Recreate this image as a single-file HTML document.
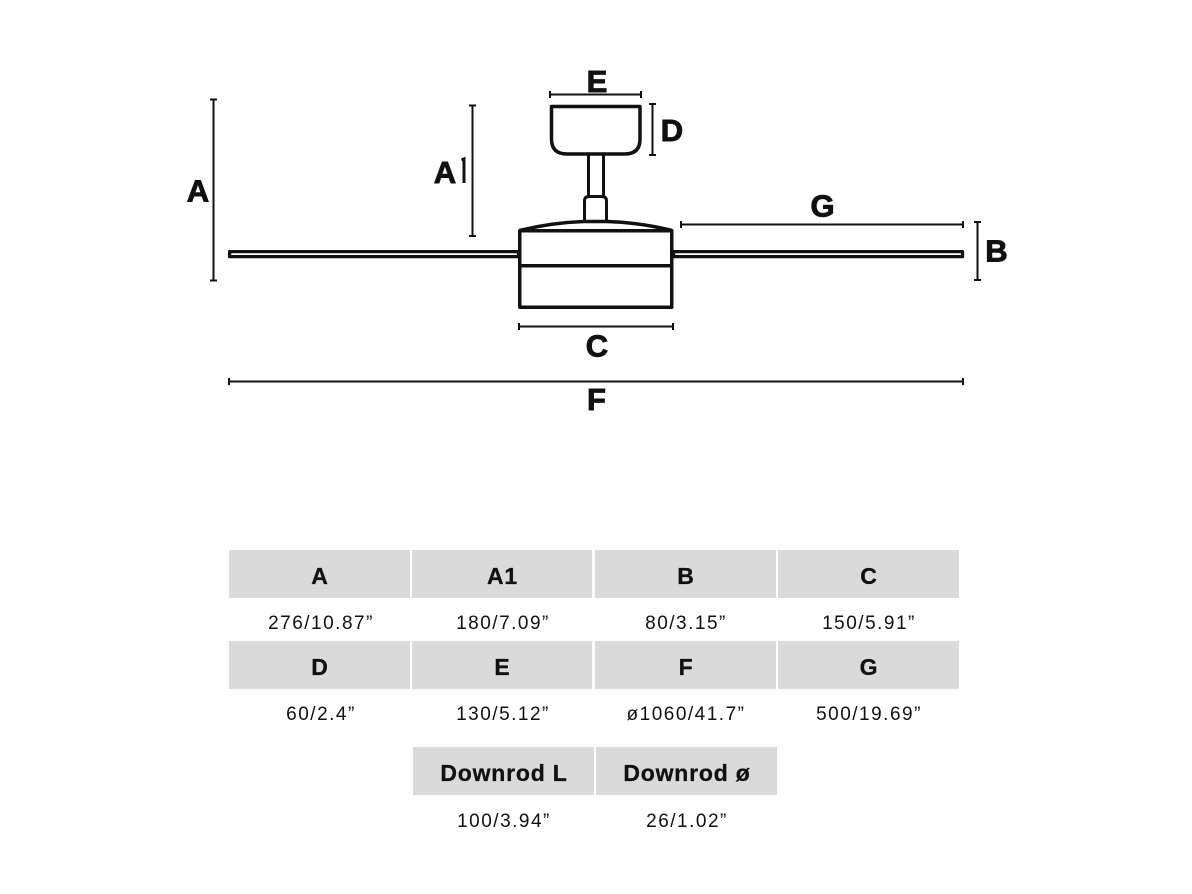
<!DOCTYPE html>
<html><head><meta charset="utf-8"><style>
html,body{margin:0;padding:0;background:#fff;}
svg{display:block;}
.lbl{font-family:"Liberation Sans",sans-serif;font-weight:bold;font-size:31px;fill:#111;stroke:#111;stroke-width:0.9px;text-anchor:middle;}
.hd{font-family:"Liberation Sans",sans-serif;font-weight:bold;font-size:23px;fill:#111;stroke:#111;stroke-width:0.3px;text-anchor:middle;letter-spacing:0.8px;}
.vl{font-family:"Liberation Sans",sans-serif;font-size:19px;fill:#111;text-anchor:middle;letter-spacing:1.5px;}
</style></head><body>
<svg width="1192" height="894" viewBox="0 0 1192 894" xmlns="http://www.w3.org/2000/svg">
<rect width="1192" height="894" fill="#fff"/>
<g stroke="#111" fill="none" stroke-linejoin="round">
 <path d="M551.5,106.5 H640 V139 Q640,154 625,154 H567 Q551.5,154 551.5,139 Z" stroke-width="3.5"/>
 <path d="M588.5,155 V196 M603.5,155 V196" stroke-width="3"/>
 <path d="M584.5,222 V201 Q584.5,196.5 589,196.5 H602 Q606.5,196.5 606.5,201 V222" stroke-width="3"/>
 <path d="M519.5,230.5 Q552,222.5 584,221.5 H607 Q640,222.5 672,230.5" stroke-width="3.5"/>
 <rect x="519.75" y="230.75" width="152" height="76.5" stroke-width="3.5"/>
 <line x1="519" y1="265.7" x2="673" y2="265.7" stroke-width="3.5"/>
 <rect x="229.6" y="251.6" width="289" height="5" stroke-width="3.3" fill="#fff"/>
 <rect x="673.5" y="251.6" width="289" height="5" stroke-width="3.3" fill="#fff"/>
</g>
<g stroke="#111" stroke-width="2" fill="none">
 <path d="M213.5,99.5 V280.5 M210,99.5 H217 M210,280.5 H217"/>
 <path d="M472.5,105.5 V236 M469,105.5 H476 M469,236 H476"/>
 <path d="M550,94.5 H641 M550,91 V98 M641,91 V98"/>
 <path d="M652.5,104 V155 M649,104 H656 M649,155 H656"/>
 <path d="M681,224.5 H963 M681,221 V228 M963,221 V228"/>
 <path d="M977.5,222 V280 M974,222 H981 M974,280 H981"/>
 <path d="M519,326.5 H673 M519,323 V330 M673,323 V330"/>
 <path d="M229,381.5 H963 M229,378 V385 M963,378 V385"/>
</g>
<text class="lbl" x="597" y="92">E</text>
<text class="lbl" x="672" y="141">D</text>
<text class="lbl" x="198" y="201.5">A</text>
<text class="lbl" x="445" y="183">A</text>
<path d="M461.5,160 L464,159 V183" stroke="#111" stroke-width="3" fill="none"/>
<text class="lbl" x="822.5" y="216.5">G</text>
<text class="lbl" x="996.5" y="261.5">B</text>
<text class="lbl" x="597" y="356.5">C</text>
<text class="lbl" x="596.5" y="410">F</text>

<g fill="#dadada">
 <rect x="229" y="550" width="181" height="48"/>
 <rect x="412" y="550" width="180" height="48"/>
 <rect x="595" y="550" width="181" height="48"/>
 <rect x="778" y="550" width="181" height="48"/>
 <rect x="229" y="641" width="181" height="48"/>
 <rect x="412" y="641" width="180" height="48"/>
 <rect x="595" y="641" width="181" height="48"/>
 <rect x="778" y="641" width="181" height="48"/>
 <rect x="413" y="747" width="181" height="48"/>
 <rect x="596" y="747" width="181" height="48"/>
</g>
<text class="hd" x="320" y="584">A</text>
<text class="hd" x="502.5" y="584">A1</text>
<text class="hd" x="686" y="584">B</text>
<text class="hd" x="869" y="584">C</text>
<text class="vl" x="321" y="629">276/10.87”</text>
<text class="vl" x="503" y="629">180/7.09”</text>
<text class="vl" x="686" y="629">80/3.15”</text>
<text class="vl" x="869" y="629">150/5.91”</text>

<text class="hd" x="320" y="675">D</text>
<text class="hd" x="502.5" y="675">E</text>
<text class="hd" x="686" y="675">F</text>
<text class="hd" x="869" y="675">G</text>
<text class="vl" x="321" y="720">60/2.4”</text>
<text class="vl" x="503" y="720">130/5.12”</text>
<text class="vl" x="686" y="720">ø1060/41.7”</text>
<text class="vl" x="869" y="720">500/19.69”</text>

<text class="hd" x="504" y="781">Downrod L</text>
<text class="hd" x="687" y="781">Downrod ø</text>
<text class="vl" x="504" y="827">100/3.94”</text>
<text class="vl" x="687" y="827">26/1.02”</text>
</svg>
</body></html>
